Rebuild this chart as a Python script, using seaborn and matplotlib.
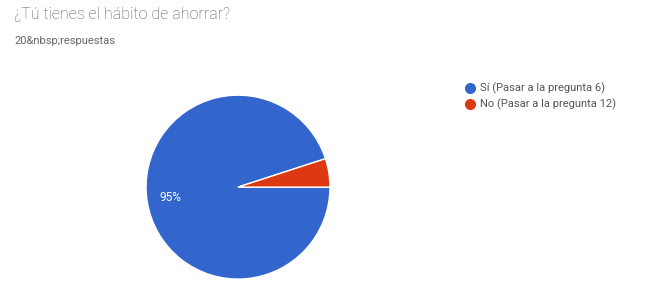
import matplotlib
matplotlib.use("Agg")
import matplotlib.pyplot as plt
import seaborn as sns
from matplotlib.lines import Line2D

sns.set_theme(style="white")
plt.rcParams['font.family'] = ['Roboto', 'DejaVu Sans']

categories = ["Sí (Pasar a la pregunta 6)", "No (Pasar a la pregunta 12)"]
values = [95, 5]
colors = ["#3366cc", "#dc3912"]
title = "¿Tú tienes el hábito de ahorrar?"
subtitle = "20&nbsp;respuestas"

fig = plt.figure(figsize=(6.53, 2.91), dpi=100)
fig.patch.set_facecolor("white")

ax = fig.add_axes([0.2236, 0.041, 0.2818, 0.632])
wedges, texts, autotexts = ax.pie(
    values, colors=colors, startangle=18, counterclock=True,
    autopct=lambda p: f"{p:.0f}%" if p > 10 else "",
    pctdistance=0.75,
    wedgeprops=dict(edgecolor="white", linewidth=1),
    textprops=dict(color="white", fontsize=8.5),
)
ax.set_xlim(-1.0, 1.0)
ax.set_ylim(-1.0, 1.0)
ax.set_aspect("equal")
ax.axis("off")

fig.text(14/653, 1 - 15/291, title, fontsize=11.5, color="#555555", va="center", ha="left",
         fontweight="light")
fig.text(14/653, 1 - 41/291, subtitle, fontsize=8, color="#666666", va="center", ha="left")

handles = [Line2D([0], [0], marker="o", linestyle="", markerfacecolor=c,
                  markeredgecolor=c, markersize=7) for c in colors]
fig.legend(handles, categories, loc="upper left", bbox_to_anchor=(464/653, 1 - 83/291),
           frameon=False, fontsize=8, handletextpad=0.4, labelspacing=0.4,
           handlelength=1.0, borderaxespad=0, borderpad=0, labelcolor="#555555")

fig.savefig("out.png", dpi=100, facecolor="white")
